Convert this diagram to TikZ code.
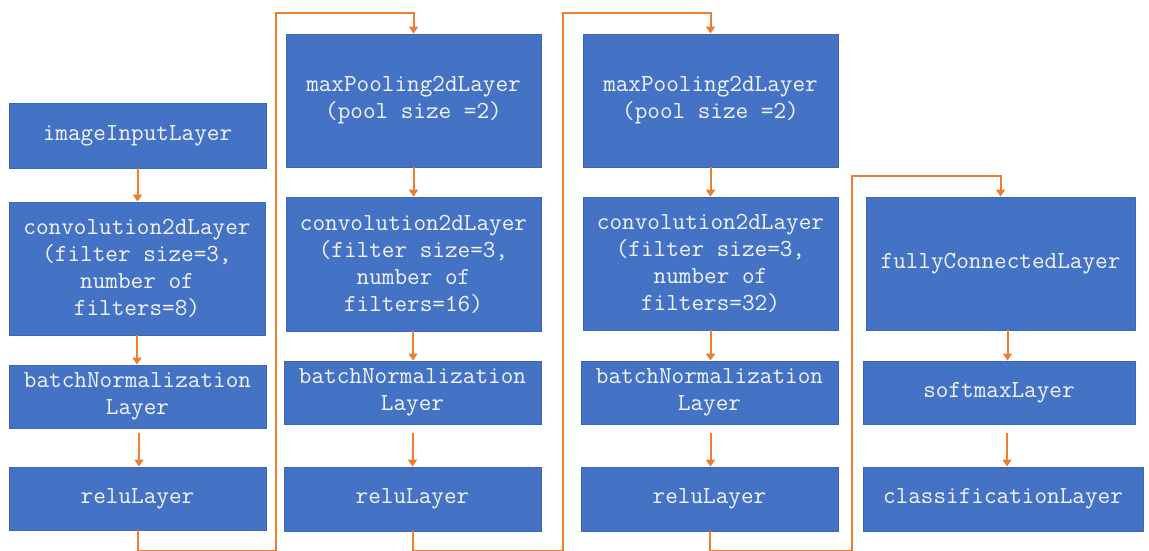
\documentclass[tikz,border=0pt]{standalone}
\usepackage{fontspec}
\usetikzlibrary{arrows.meta}
\definecolor{boxblue}{HTML}{4472C4}
\definecolor{boxedge}{HTML}{3D67B3}
\definecolor{lineorange}{HTML}{ED7D31}
\tikzset{
  layerbox/.style={rectangle, fill=boxblue, draw=boxedge, line width=0.8pt, inner sep=0pt,
    text=white!96!black, align=center,
    font=\ttfamily\fontsize{24.5}{27}\selectfont},
  arr/.style={draw=lineorange, line width=2pt,
    -{Triangle[width=9pt,length=7pt,fill=lineorange]}},
  link/.style={draw=lineorange, line width=2pt}
}
\begin{document}
\begin{tikzpicture}[x=1pt,y=-1pt]
\useasboundingbox (0,0) rectangle (1149,551);
% column 1
\node[layerbox, minimum width=257pt, minimum height=65pt] (in1) at (137.5,135.5) {imageInputLayer};
\node[layerbox, minimum width=256pt, minimum height=133pt] (conv1) at (137,268.5) {convolution2dLayer\\(filter size=3,\\number of\\filters=8)};
\node[layerbox, minimum width=257pt, minimum height=63pt] (bn1) at (137.5,396.5) {batchNormalization\\Layer};
\node[layerbox, minimum width=257pt, minimum height=63pt] (relu1) at (137.5,498.5) {reluLayer};
% column 2
\node[layerbox, minimum width=255pt, minimum height=133pt] (mp2) at (413.5,100.5) {maxPooling2dLayer\\(pool size =2)};
\node[layerbox, minimum width=255pt, minimum height=134pt] (conv2) at (413.5,264) {convolution2dLayer\\(filter size=3,\\number of\\filters=16)};
\node[layerbox, minimum width=257pt, minimum height=63pt] (bn2) at (412.5,392.5) {batchNormalization\\Layer};
\node[layerbox, minimum width=257pt, minimum height=64pt] (relu2) at (412.5,499) {reluLayer};
% column 3
\node[layerbox, minimum width=255pt, minimum height=133pt] (mp3) at (710.5,100.5) {maxPooling2dLayer\\(pool size =2)};
\node[layerbox, minimum width=255pt, minimum height=133pt] (conv3) at (710.5,263.5) {convolution2dLayer\\(filter size=3,\\number of\\filters=32)};
\node[layerbox, minimum width=257pt, minimum height=63pt] (bn3) at (709.5,392.5) {batchNormalization\\Layer};
\node[layerbox, minimum width=257pt, minimum height=64pt] (relu3) at (709.5,499) {reluLayer};
% column 4
\node[layerbox, minimum width=269pt, minimum height=133pt] (fc) at (1000.5,263.5) {fullyConnectedLayer};
\node[layerbox, minimum width=272pt, minimum height=63pt] (sm) at (999,392.5) {softmaxLayer};
\node[layerbox, minimum width=280pt, minimum height=64pt] (cl) at (1003,499) {classificationLayer};
% routing points
\coordinate (b1) at (275.5,551);
\coordinate (t1) at (275.5,13);
\coordinate (b2) at (562.5,551);
\coordinate (t2) at (562.5,13);
\coordinate (b3) at (852,551);
\coordinate (t3) at (852,176);
% arrows within columns
\draw[arr] (in1.south) -- (conv1.north -| in1.south);
\draw[arr] (conv1.south) -- (bn1.north -| conv1.south);
\draw[arr, shorten <=5pt] ([xshift=1.5pt]bn1.south) -- ([xshift=1.5pt]relu1.north);
\draw[arr] (mp2.south) -- (conv2.north);
\draw[arr] ([xshift=-0.5pt]conv2.south) -- ([xshift=-0.5pt]conv2.south |- bn2.north);
\draw[arr, shorten <=9pt] (bn2.south) -- (relu2.north);
\draw[arr] (mp3.south) -- (conv3.north);
\draw[arr] (conv3.south) -- (conv3.south |- bn3.north);
\draw[arr, shorten <=9pt] ([xshift=1pt]bn3.south) -- ([xshift=1pt]relu3.north);
\draw[arr] ([xshift=7pt]fc.south) -- ([xshift=7pt]fc.south |- sm.north);
\draw[arr, shorten <=9pt] ([xshift=8pt]sm.south) -- ([xshift=8pt]sm.south |- cl.north);
% links between columns
\draw[arr] (relu1.south) |- (b1) -- (t1) -| (mp2.north);
\draw[arr] (relu2.south) |- (b2) -- (t2) -| (mp3.north);
\draw[arr] (relu3.south) |- (b3) -- (t3) -| (fc.north);
\end{tikzpicture}
\end{document}
